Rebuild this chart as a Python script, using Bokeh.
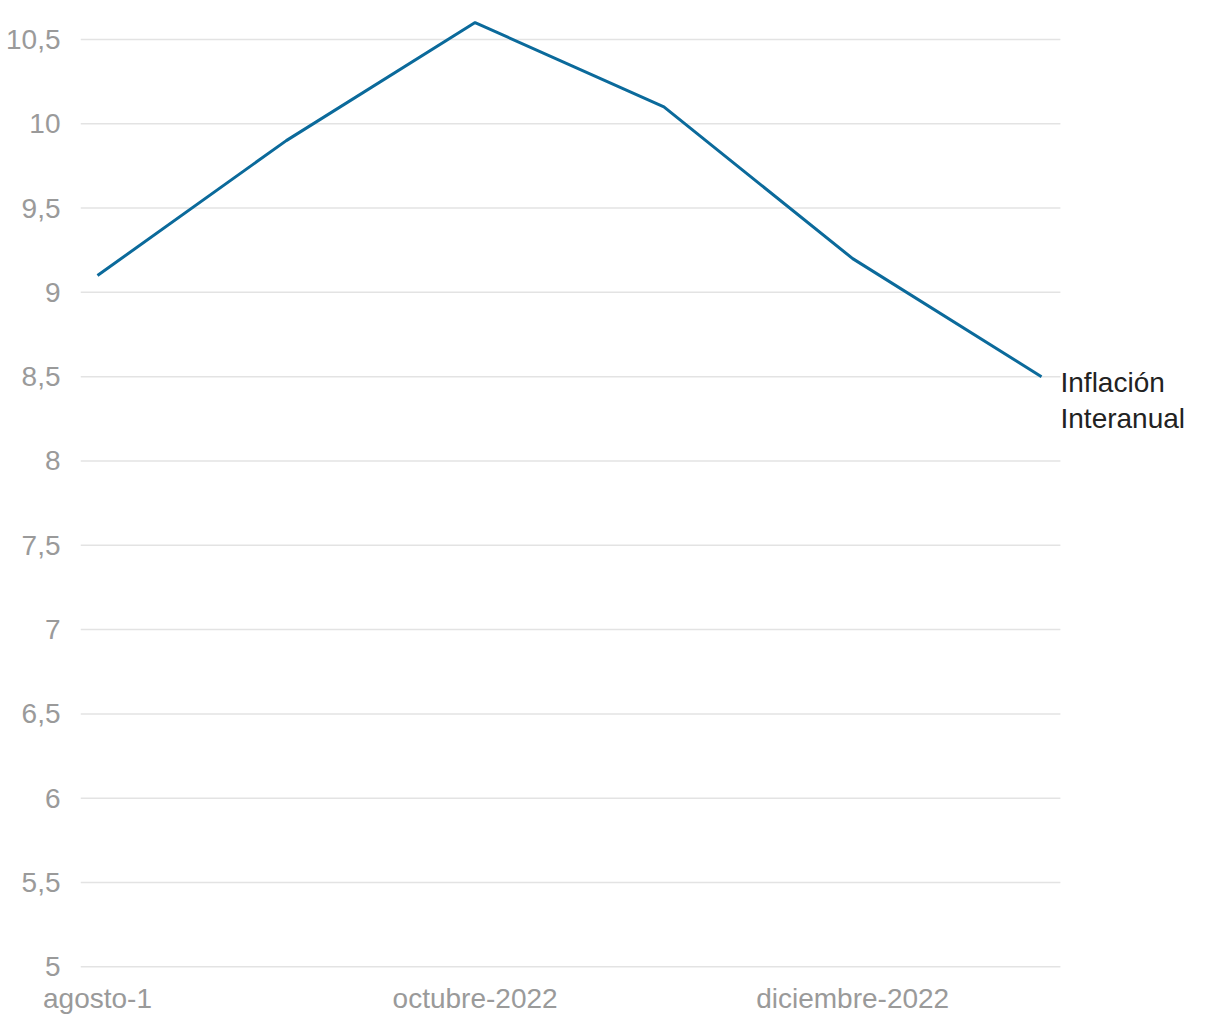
from bokeh.plotting import figure
from bokeh.models import FixedTicker, Label, Range1d
from bokeh.embed import file_html
from bokeh.resources import INLINE

months = ["agosto-1", "septiembre-2022", "octubre-2022", "noviembre-2022", "diciembre-2022", "enero-2023"]
inflacion = [9.1, 9.9, 10.6, 10.1, 9.2, 8.5]
y_ticks = [5, 5.5, 6, 6.5, 7, 7.5, 8, 8.5, 9, 9.5, 10, 10.5]
x_tick_idx = [0, 2, 4]
series_label = ["Inflación", "Interanual"]

FONT = "Liberation Sans"
GRAY = "#9a9a9a"

X0, X_GRID_END, X1 = -0.09, 5.1, 5.948

p = figure(width=1220, height=1020, output_backend="svg", toolbar_location=None,
           x_range=Range1d(X0, X1), y_range=Range1d(4.99, 10.642),
           min_border_left=80, min_border_right=0, min_border_top=15, min_border_bottom=52)
p.outline_line_color = None
p.background_fill_color = "white"
p.border_fill_color = "white"

# horizontal grid lines (stop short of the series label area)
p.segment(x0=[X0] * len(y_ticks), x1=[X_GRID_END] * len(y_ticks), y0=y_ticks, y1=y_ticks,
          line_color="#e3e3e3", line_width=1.5)

xs = list(range(len(months)))
p.line(xs, inflacion, line_color="#0b6a9b", line_width=3)

# axes
p.yaxis.ticker = FixedTicker(ticks=y_ticks)
p.yaxis.major_label_overrides = {t: (f"{t:g}".replace(".", ",")) for t in y_ticks}
p.yaxis.axis_line_color = None
p.yaxis.major_tick_line_color = None
p.yaxis.minor_tick_line_color = None
p.yaxis.major_label_text_font = FONT
p.yaxis.major_label_text_font_size = "28px"
p.yaxis.major_label_text_color = GRAY
p.yaxis.major_label_standoff = 14

p.xaxis.ticker = FixedTicker(ticks=x_tick_idx)
p.xaxis.major_label_overrides = {i: months[i] for i in x_tick_idx}
p.xaxis.axis_line_color = None
p.xaxis.major_tick_line_color = None
p.xaxis.minor_tick_line_color = None
p.xaxis.major_label_text_font = FONT
p.xaxis.major_label_text_font_size = "28px"
p.xaxis.major_label_text_color = GRAY
p.xaxis.major_label_standoff = 8

p.grid.grid_line_color = None

# series label at end of line
last_x = xs[-1]
last_y = inflacion[-1]
for i, txt in enumerate(series_label):
    p.add_layout(Label(x=last_x, y=last_y, text=txt, x_offset=19, y_offset=-6 - i * 36,
                       text_baseline="middle", text_align="left",
                       text_font=FONT, text_font_size="28px", text_color="#222222"))

open("out.html", "w").write(file_html(p, INLINE))
